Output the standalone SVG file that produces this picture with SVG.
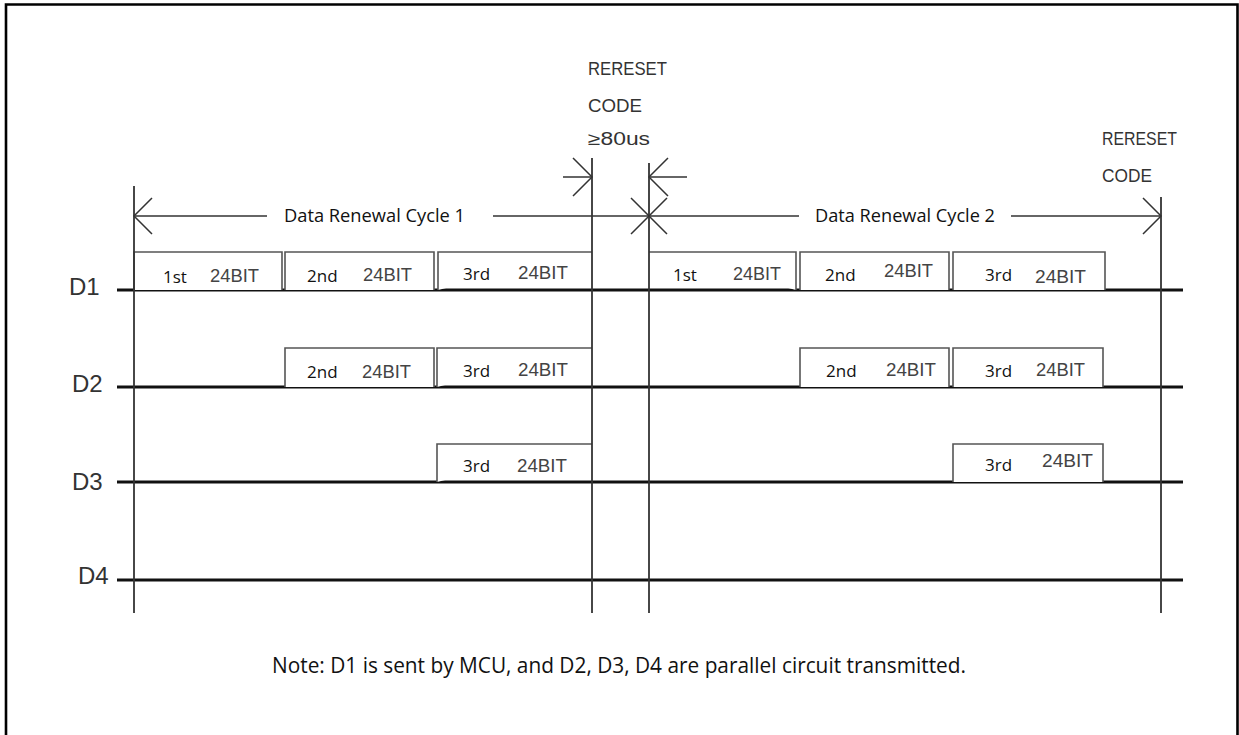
<svg xmlns="http://www.w3.org/2000/svg" width="1239" height="735" viewBox="0 0 1239 735">
<style>
.frame{fill:none;stroke:#000;stroke-width:2.6}
.sig{stroke:#111;stroke-width:3;fill:none}
.vl{stroke:#333;stroke-width:1.8;fill:none}
.dim{stroke:#333;stroke-width:1.5;fill:none}
.box{fill:#fff;stroke:#555;stroke-width:1.6}
.ord{font-family:"Open Sans","Noto Sans",sans-serif;font-size:17px;fill:#111}
.bit{font-family:"Liberation Sans",Arial,sans-serif;font-size:18px;fill:#444}
.lbl{font-family:"Liberation Sans",Arial,sans-serif;font-size:24px;fill:#333}
.cyc{font-family:"Open Sans","Noto Sans",sans-serif;font-size:18px;fill:#111}
.rst{font-family:"Liberation Sans",Arial,sans-serif;font-size:18px;fill:#333}
.note{font-family:"Open Sans","Noto Sans",sans-serif;font-size:21px;fill:#111}
</style>
<path class="frame" d="M6,735 V4.5 H1237.5 V735"/>

<g id="signal-lines">
<line class="sig" x1="117" y1="290" x2="1183" y2="290"/>
<line class="sig" x1="117" y1="387" x2="1183" y2="387"/>
<line class="sig" x1="117" y1="482" x2="1183" y2="482"/>
<line class="sig" x1="117" y1="580" x2="1183" y2="580"/>
<text class="lbl" x="69" y="295">D1</text>
<text class="lbl" x="72" y="392">D2</text>
<text class="lbl" x="72" y="490">D3</text>
<text class="lbl" x="78" y="584">D4</text>
</g>

<g id="d1-c1-b1"><path class="box" d="M134,290 V252 H282 V290"/><text class="ord" x="163" y="283">1st</text><text class="bit" x="210" y="282" textLength="49" lengthAdjust="spacingAndGlyphs">24BIT</text></g>
<g id="d1-c1-b2"><path class="box" d="M285,290 V252 H434 V290"/><text class="ord" x="307" y="282">2nd</text><text class="bit" x="363" y="281" textLength="49" lengthAdjust="spacingAndGlyphs">24BIT</text></g>
<g id="d1-c1-b3"><path class="box" d="M438,290 V252 H592"/><text class="ord" x="463" y="280">3rd</text><text class="bit" x="518" y="279" textLength="50" lengthAdjust="spacingAndGlyphs">24BIT</text></g>
<g id="d1-c2-b1"><path class="box" d="M649,252 H796 V290"/><text class="ord" x="673" y="281">1st</text><text class="bit" x="733" y="280" textLength="48" lengthAdjust="spacingAndGlyphs">24BIT</text></g>
<g id="d1-c2-b2"><path class="box" d="M800,290 V252 H949 V290"/><text class="ord" x="825" y="281">2nd</text><text class="bit" x="884" y="277" textLength="49" lengthAdjust="spacingAndGlyphs">24BIT</text></g>
<g id="d1-c2-b3"><path class="box" d="M953,290 V252 H1105 V290"/><text class="ord" x="985" y="281">3rd</text><text class="bit" x="1035" y="283" textLength="51" lengthAdjust="spacingAndGlyphs">24BIT</text></g>

<g id="d2-c1-b2"><path class="box" d="M285,387 V348 H434 V387"/><text class="ord" x="307" y="378">2nd</text><text class="bit" x="362" y="378" textLength="49" lengthAdjust="spacingAndGlyphs">24BIT</text></g>
<g id="d2-c1-b3"><path class="box" d="M437,387 V348 H592"/><text class="ord" x="463" y="377">3rd</text><text class="bit" x="518" y="376" textLength="50" lengthAdjust="spacingAndGlyphs">24BIT</text></g>
<g id="d2-c2-b2"><path class="box" d="M800,387 V348 H949 V387"/><text class="ord" x="826" y="377">2nd</text><text class="bit" x="886" y="376" textLength="50" lengthAdjust="spacingAndGlyphs">24BIT</text></g>
<g id="d2-c2-b3"><path class="box" d="M953,387 V348 H1103 V387"/><text class="ord" x="985" y="377">3rd</text><text class="bit" x="1036" y="376" textLength="49" lengthAdjust="spacingAndGlyphs">24BIT</text></g>

<g id="d3-c1-b3"><path class="box" d="M437,482 V444 H592"/><text class="ord" x="463" y="472">3rd</text><text class="bit" x="517" y="472" textLength="50" lengthAdjust="spacingAndGlyphs">24BIT</text></g>
<g id="d3-c2-b3"><path class="box" d="M953,482 V444 H1103 V482"/><text class="ord" x="985" y="471">3rd</text><text class="bit" x="1042" y="467" textLength="51" lengthAdjust="spacingAndGlyphs">24BIT</text></g>

<g id="connectors">
<line class="vl" x1="134" y1="186" x2="134" y2="613"/>
<line class="vl" x1="592" y1="158" x2="592" y2="613"/>
<line class="vl" x1="649" y1="163" x2="649" y2="613"/>
<line class="vl" x1="1161" y1="197" x2="1161" y2="613"/>
<line class="dim" x1="134" y1="216" x2="267" y2="216"/>
<line class="dim" x1="493" y1="216" x2="649" y2="216"/>
<polyline class="dim" points="152,198 134,216 152,234"/>
<polyline class="dim" points="631,198 649,216 631,234"/>
<line class="dim" x1="649" y1="216" x2="799" y2="216"/>
<line class="dim" x1="1011" y1="216" x2="1161" y2="216"/>
<polyline class="dim" points="667,198 649,216 667,234"/>
<polyline class="dim" points="1143,198 1161,216 1143,234"/>
<line class="dim" x1="563" y1="177" x2="592" y2="177"/>
<polyline class="dim" points="573,158 592,177 573,196"/>
<line class="dim" x1="649" y1="177" x2="687" y2="177"/>
<polyline class="dim" points="668,158 649,177 668,196"/>
</g>

<g id="cycle-labels">
<text class="cyc" x="284" y="222" textLength="181" lengthAdjust="spacingAndGlyphs">Data Renewal Cycle 1</text>
<text class="cyc" x="815" y="222" textLength="180" lengthAdjust="spacingAndGlyphs">Data Renewal Cycle 2</text>
</g>

<g id="reset-1">
<text class="rst" x="588" y="75" textLength="79" lengthAdjust="spacingAndGlyphs">RERESET</text>
<text class="rst" x="588" y="112" textLength="54" lengthAdjust="spacingAndGlyphs">CODE</text>
<text class="rst" x="588" y="145" textLength="62" lengthAdjust="spacingAndGlyphs">≥80us</text>
</g>
<g id="reset-2">
<text class="rst" x="1102" y="145" textLength="75" lengthAdjust="spacingAndGlyphs">RERESET</text>
<text class="rst" x="1102" y="182" textLength="50" lengthAdjust="spacingAndGlyphs">CODE</text>
</g>

<text class="note" x="272" y="673" textLength="694" lengthAdjust="spacingAndGlyphs">Note: D1 is sent by MCU, and D2, D3, D4 are parallel circuit transmitted.</text>
</svg>
